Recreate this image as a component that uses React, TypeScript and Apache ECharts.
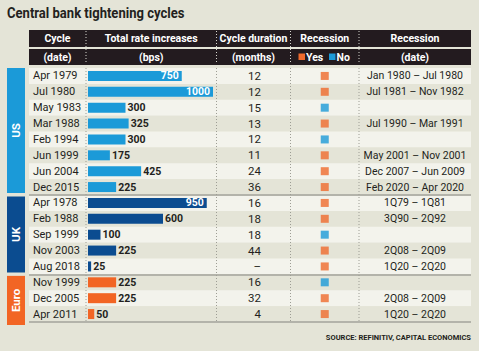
import React, { useEffect, useRef } from "react";
import * as echarts from "echarts";

const cycles = [
  "Apr 1979", "Jul 1980", "May 1983", "Mar 1988", "Feb 1994", "Jun 1999", "Jun 2004", "Dec 2015",
  "Apr 1978", "Feb 1988", "Sep 1999", "Nov 2003", "Aug 2018",
  "Nov 1999", "Dec 2005", "Apr 2011",
];
const regions = [
  "US", "US", "US", "US", "US", "US", "US", "US",
  "UK", "UK", "UK", "UK", "UK",
  "Euro", "Euro", "Euro",
];
const increases = [750, 1000, 300, 325, 300, 175, 425, 225, 950, 600, 100, 225, 25, 225, 225, 50];
const durations = ["12", "12", "15", "13", "12", "11", "24", "36", "16", "18", "18", "44", "–", "16", "32", "4"];
const recession = ["Yes", "Yes", "No", "Yes", "No", "Yes", "Yes", "Yes", "Yes", "Yes", "No", "Yes", "Yes", "No", "Yes", "Yes"];
const recessionDates = [
  "Jan 1980 – Jul 1980", "Jul 1981 – Nov 1982", "", "Jul 1990 – Mar 1991", "",
  "May 2001 – Nov 2001", "Dec 2007 – Jun 2009", "Feb 2020 – Apr 2020",
  "1Q79 – 1Q81", "3Q90 – 2Q92", "", "2Q08 – 2Q09", "1Q20 – 2Q20",
  "", "2Q08 – 2Q09", "1Q20 – 2Q20",
];
const groupNames = ["US", "UK", "Euro"];
const headerTop = ["Cycle", "Total rate increases", "Cycle duration", "Recession", "Recession"];
const headerBottom = ["(date)", "(bps)", "(months)", "", "(date)"];

const W = 479;
const H = 351;
const BG = "#e4e4d7";
const LIGHT = "#f3f3ec";
const DARK = "#231b1f";
const INK = "#231f20";
const US_BLUE = "#1b9ad8";
const UK_BLUE = "#0b4c90";
const EURO = "#f26524";
const YES = "#ef6a2d";
const NO = "#1b9ad8";
const FONT = "Roboto, 'Noto Sans', sans-serif";
const regionColor: Record<string, string> = { US: US_BLUE, UK: UK_BLUE, Euro: EURO };

const TOP = 68;
const BOT = 322;
const N = cycles.length;
const BAND = (BOT - TOP) / N;
const LEFT = 29;
const RIGHT = 471;
const COLS = [LEFT, 86, 216.5, 290.5, 359, RIGHT];

export default function App() {
  const ref = useRef<HTMLDivElement>(null);
  useEffect(() => {
    if (!ref.current) return;
    const chart = echarts.init(ref.current, undefined, { renderer: "svg" });

    const gridBase = { top: TOP, height: BOT - TOP };
    const hiddenX = (min: number, max: number, gridIndex: number) => ({
      type: "value", gridIndex, min, max, show: false,
    });
    const catY = (gridIndex: number, extra: any) => ({
      type: "category", gridIndex, data: cycles, inverse: true,
      axisLine: { show: false }, axisTick: { show: false },
      ...extra,
    });

    const graphics: any[] = [];
    graphics.push({
      type: "text", x: 7, y: 5, scaleX: 0.9,
      style: { text: "Central bank tightening cycles", fontFamily: FONT, fontWeight: "bold", fontSize: 14.5, fill: INK },
    });
    graphics.push({ type: "rect", shape: { x: LEFT, y: 30, width: RIGHT - LEFT, height: 17 }, style: { fill: DARK } });
    graphics.push({ type: "rect", shape: { x: LEFT, y: 49, width: RIGHT - LEFT, height: 16 }, style: { fill: DARK } });
    for (let c = 0; c < 5; c++) {
      const cx = (COLS[c] + COLS[c + 1]) / 2;
      graphics.push({
        type: "text", x: cx, y: 38.5,
        style: { text: headerTop[c], fontFamily: FONT, fontWeight: "bold", fontSize: 10.5, fill: "#fff", align: "center", verticalAlign: "middle" },
      });
      if (headerBottom[c]) {
        graphics.push({
          type: "text", x: cx, y: 57,
          style: { text: headerBottom[c], fontFamily: FONT, fontWeight: "bold", fontSize: 10.5, fill: "#fff", align: "center", verticalAlign: "middle" },
        });
      }
    }
    graphics.push({ type: "rect", shape: { x: 298.5, y: 53.5, width: 6.5, height: 6.5 }, style: { fill: YES } });
    graphics.push({ type: "text", x: 306, y: 57, style: { text: "Yes", fontFamily: FONT, fontWeight: "bold", fontSize: 10.5, fill: "#fff", verticalAlign: "middle" } });
    graphics.push({ type: "rect", shape: { x: 329, y: 53.5, width: 6.5, height: 6.5 }, style: { fill: NO } });
    graphics.push({ type: "text", x: 336.5, y: 57, style: { text: "No", fontFamily: FONT, fontWeight: "bold", fontSize: 10.5, fill: "#fff", verticalAlign: "middle" } });
    for (let c = 1; c < 5; c++) {
      graphics.push({
        type: "line", z: 20,
        shape: { x1: COLS[c], y1: 31, x2: COLS[c], y2: 64 },
        style: { stroke: "#d8d8d0", lineWidth: 1, lineDash: [1, 2] },
      });
      graphics.push({
        type: "line", z: 20,
        shape: { x1: COLS[c], y1: TOP, x2: COLS[c], y2: BOT },
        style: { stroke: "#9d9d94", lineWidth: 1, lineDash: [1, 2] },
      });
    }
    groupNames.forEach((g) => {
      const first = regions.indexOf(g);
      const last = regions.lastIndexOf(g);
      const y0 = TOP + first * BAND + (first === 0 ? 0 : 1.5);
      const y1 = TOP + (last + 1) * BAND - (last === N - 1 ? -3 : 2);
      graphics.push({ type: "rect", shape: { x: 7, y: y0, width: 18, height: y1 - y0 }, style: { fill: regionColor[g] } });
      graphics.push({
        type: "text", x: 16, y: (y0 + y1) / 2, rotation: Math.PI / 2,
        style: { text: g, fontFamily: FONT, fontWeight: "bold", fontSize: 11.5, fill: "#fff", align: "center", verticalAlign: "middle" },
      });
    });
    graphics.push({
      type: "text", x: RIGHT, y: 337,
      style: { text: "SOURCE: REFINITIV, CAPITAL ECONOMICS", fontFamily: FONT, fontWeight: "bold", fontSize: 7.5, fill: INK, align: "right", verticalAlign: "middle" },
    });

    const groupStarts = groupNames.map((g) => regions.indexOf(g)).filter((i) => i > 0);

    chart.setOption({
      animation: false,
      backgroundColor: BG,
      textStyle: { fontFamily: FONT },
      grid: [
        { ...gridBase, left: LEFT, width: RIGHT - LEFT },
        { ...gridBase, left: 88, width: 125 },
        { ...gridBase, left: 217, width: 44 },
        { ...gridBase, left: COLS[3], width: COLS[4] - COLS[3] },
        { ...gridBase, left: (COLS[4] + COLS[5]) / 2, width: 40 },
      ],
      xAxis: [
        hiddenX(0, 1, 0),
        hiddenX(0, 1000, 1),
        hiddenX(0, 1, 2),
        hiddenX(-1, 1, 3),
        hiddenX(0, 1, 4),
      ],
      yAxis: [
        catY(0, {
          axisLabel: { show: false },
          splitArea: { show: true, interval: 0, areaStyle: { color: [LIGHT, BG] } },
          splitLine: {
            show: true,
            interval: (i: number) => groupStarts.includes(i),
            lineStyle: { color: "#b3b3aa", width: 2 },
          },
        }),
        catY(1, {
          axisLabel: { interval: 0, align: "left", margin: 55, color: INK, fontSize: 11, fontFamily: FONT },
        }),
        catY(2, {
          position: "right",
          axisLabel: {
            interval: 0, align: "right", margin: 0, color: INK, fontSize: 11.5, fontFamily: FONT,
            formatter: (_v: string, i: number) => durations[i],
          },
        }),
        catY(3, { axisLabel: { show: false } }),
        catY(4, {
          axisLabel: {
            interval: 0, align: "center", margin: 0, color: INK, fontSize: 10.5, fontFamily: FONT,
            formatter: (_v: string, i: number) => recessionDates[i],
          },
        }),
      ],
      series: [
        {
          type: "bar", xAxisIndex: 1, yAxisIndex: 1, barWidth: 10,
          data: increases.map((v, i) => ({
            value: v,
            itemStyle: { color: regionColor[regions[i]] },
            label: v >= 700
              ? { show: true, position: "insideRight", distance: 3, color: "#fff", fontWeight: "bold", fontSize: 10.5, fontFamily: FONT }
              : { show: true, position: "right", distance: 2, color: INK, fontWeight: "bold", fontSize: 10.5, fontFamily: FONT },
          })),
        },
        {
          type: "scatter", xAxisIndex: 3, yAxisIndex: 3, symbol: "rect", symbolSize: 8,
          data: recession.map((r, i) => ({ value: [0, i], itemStyle: { color: r === "Yes" ? YES : NO } })),
        },
      ],
      graphic: graphics,
    });
    return () => chart.dispose();
  }, []);
  return <div ref={ref} style={{ position: "fixed", left: 0, top: 0, width: W, height: H }} />;
}
